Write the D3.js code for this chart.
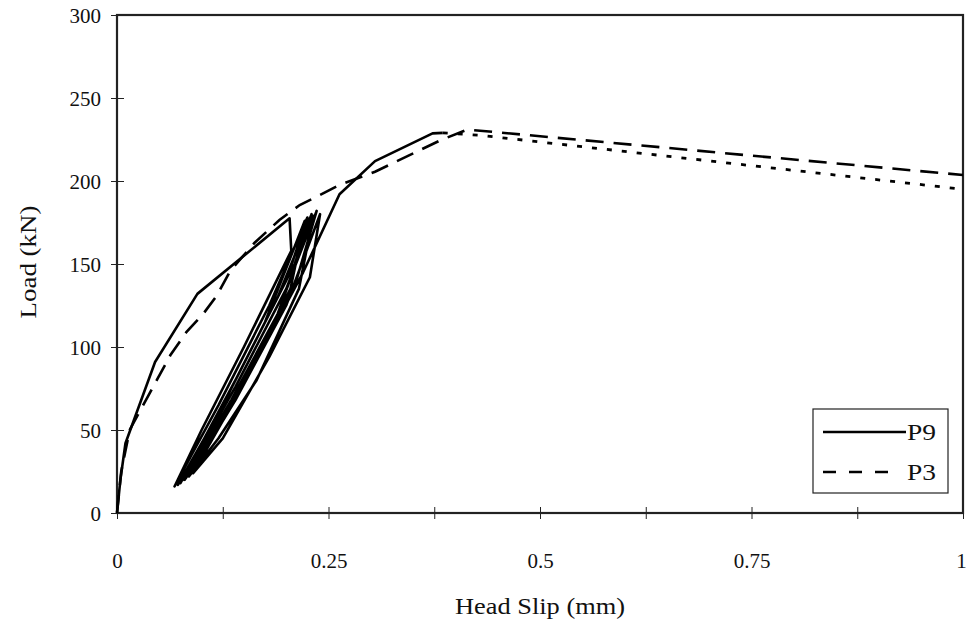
<!DOCTYPE html>
<html>
<head>
<meta charset="utf-8">
<script src="https://cdn.jsdelivr.net/npm/d3@7"></script>
<style>
  body { margin: 0; background: #fff; }
  text { font-family: "Liberation Serif", "Times New Roman", serif; fill: #111; }
</style>
</head>
<body>
<div id="chart"></div>
<script>
// head slip (mm) / load (kN)
var p9Slip = [0, 0.004, 0.01, 0.045, 0.095, 0.204, 0.206,
  0.15, 0.1, 0.068, 0.12, 0.18, 0.225,
  0.2, 0.14, 0.075, 0.13, 0.19, 0.23,
  0.21, 0.15, 0.1, 0.072, 0.12, 0.175, 0.222,
  0.205, 0.135, 0.078, 0.14, 0.2, 0.236,
  0.212, 0.16, 0.11, 0.08, 0.135, 0.19, 0.232,
  0.215, 0.165, 0.12, 0.085, 0.14, 0.2, 0.24,
  0.228, 0.18, 0.125, 0.09, 0.15, 0.22, 0.263,
  0.305, 0.373, 0.385];
var p9Load = [0, 20, 42, 91, 132, 177.5, 158,
  100, 50, 16, 65, 125, 178,
  140, 80, 18, 70, 130, 180,
  150, 90, 40, 17, 60, 115, 176,
  135, 65, 20, 76, 135, 182,
  140, 88, 42, 20, 68, 120, 179,
  135, 80, 45, 22, 68, 125, 180,
  142, 94, 45, 24, 78, 145, 192,
  212, 228.7, 229];

var p9ExtSlip = [0.385, 0.43, 1.0];
var p9ExtLoad = [229, 227.5, 195];

var p3Slip = [0, 0.005, 0.015, 0.047, 0.063, 0.082, 0.102, 0.118, 0.134, 0.163,
  0.192, 0.216, 0.24, 0.263, 0.305, 0.383, 0.414, 1.0];
var p3Load = [0, 25, 50, 80, 95, 109, 120, 131, 146, 163,
  176.5, 185.5, 191.6, 197.6, 205.6, 224.7, 231, 203.6];

var xTicks = [0, 0.125, 0.25, 0.375, 0.5, 0.625, 0.75, 0.875, 1];
var xLabels = [0, 0.25, 0.5, 0.75, 1];
var yTicks = [0, 50, 100, 150, 200, 250, 300];

var legendNames = ["P9", "P3"];

function pairs(xs, ys) {
  return xs.map(function (d, i) { return { x: d, y: ys[i] }; });
}

var width = 967, height = 621;
var margin = { left: 117, top: 15, right: 4, bottom: 108 };

var svg = d3.select("#chart").append("svg")
  .attr("width", width)
  .attr("height", height);

var x = d3.scaleLinear().domain([0, 1]).range([margin.left, width - margin.right]);
var y = d3.scaleLinear().domain([0, 300]).range([height - margin.bottom, margin.top]);

// frame
svg.append("rect")
  .attr("x", x(0)).attr("y", y(300))
  .attr("width", x(1) - x(0)).attr("height", y(0) - y(300))
  .attr("fill", "none").attr("stroke", "#222").attr("stroke-width", 2.2);

// x axis, ticks crossing the line
var xAxis = d3.axisBottom(x)
  .tickValues(xTicks)
  .tickSizeInner(6).tickSizeOuter(0)
  .tickFormat(function (d) { return xLabels.indexOf(d) >= 0 ? String(d) : ""; });

var gx = svg.append("g")
  .attr("transform", "translate(0," + y(0) + ")")
  .call(xAxis);
gx.select(".domain").remove();
gx.selectAll("line").attr("y1", -6).attr("y2", 6).attr("stroke", "#222");
gx.selectAll("text").attr("y", 55).attr("dy", "0").style("font-size", "21px").attr("fill", "#111")
  .attr("x", function (d) { return d === 1 ? -2 : 0; });

var yAxis = d3.axisLeft(y)
  .tickValues(yTicks)
  .tickSizeInner(6).tickSizeOuter(0)
  .tickFormat(d3.format("d"));

var gy = svg.append("g")
  .attr("transform", "translate(" + x(0) + ",0)")
  .call(yAxis);
gy.select(".domain").remove();
gy.selectAll("line").attr("x1", -6).attr("x2", 7).attr("stroke", "#222");
gy.selectAll("text").attr("x", -16).attr("dy", "0.38em").style("font-size", "21px").attr("fill", "#111");

var line = d3.line()
  .x(function (d) { return x(d.x); })
  .y(function (d) { return y(d.y); });

var plot = svg.append("g");

plot.append("path")
  .attr("d", line(pairs(p9ExtSlip, p9ExtLoad)))
  .attr("fill", "none").attr("stroke", "#000")
  .attr("stroke-width", 2.8).attr("stroke-dasharray", "5,10");

plot.append("path")
  .attr("d", line(pairs(p3Slip, p3Load)))
  .attr("fill", "none").attr("stroke", "#000")
  .attr("stroke-width", 2.6).attr("stroke-dasharray", "18,10");

plot.append("path")
  .attr("d", line(pairs(p9Slip, p9Load)))
  .attr("fill", "none").attr("stroke", "#000")
  .attr("stroke-width", 2.6).attr("stroke-linejoin", "round");

// legend
var lg = svg.append("g").attr("transform", "translate(813,409)");
lg.append("rect")
  .attr("width", 135).attr("height", 84)
  .attr("fill", "#fff").attr("stroke", "#222").attr("stroke-width", 1.2);

lg.selectAll(".item").data(legendNames).enter().append("g")
  .attr("class", "item")
  .each(function (d, i) {
    var g = d3.select(this);
    var yy = 23 + i * 40;
    g.append("line")
      .attr("x1", 10).attr("x2", i === 0 ? 93 : 88)
      .attr("y1", yy).attr("y2", yy)
      .attr("stroke", "#000").attr("stroke-width", 2.6)
      .attr("stroke-dasharray", i === 0 ? null : "13,13");
    g.append("text")
      .attr("x", 94).attr("y", yy + 8)
      .attr("textLength", 29).attr("lengthAdjust", "spacingAndGlyphs")
      .style("font-size", "24px")
      .text(d);
  });

// axis titles
svg.append("text")
  .attr("x", 540)
  .attr("y", 614)
  .attr("text-anchor", "middle")
  .attr("textLength", 170).attr("lengthAdjust", "spacingAndGlyphs")
  .style("font-size", "23px")
  .text("Head Slip (mm)");

svg.append("text")
  .attr("transform", "translate(36,262) rotate(-90)")
  .attr("text-anchor", "middle")
  .attr("textLength", 113).attr("lengthAdjust", "spacingAndGlyphs")
  .style("font-size", "23px")
  .text("Load (kN)");
</script>
</body>
</html>
